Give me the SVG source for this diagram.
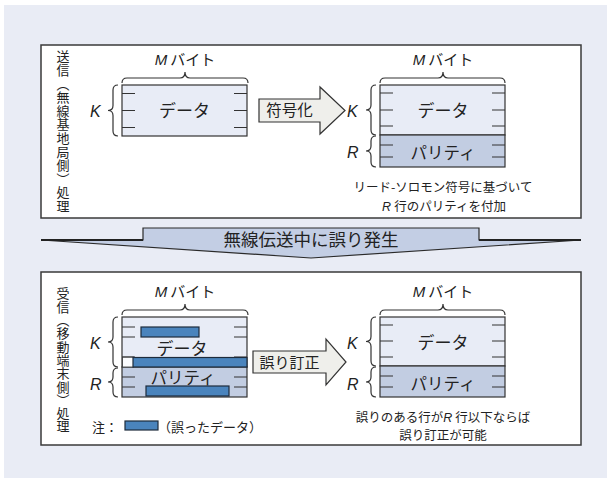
<svg xmlns="http://www.w3.org/2000/svg" width="611" height="483" viewBox="0 0 611 483">
<style>
.t{font-family:"Noto Sans CJK JP","Noto Sans",sans-serif;fill:#222}
.i{font-family:"Liberation Sans",Arial,sans-serif;font-style:italic;fill:#222}
.box{stroke:#333;stroke-width:1.2}
.data{fill:#e8ecf6}
.par{fill:#c2cde2}
.tick{stroke:#333;stroke-width:1.2;fill:none}
.brace{stroke:#333;stroke-width:1.2;fill:none}
.panel{fill:#fff;stroke:#3a3a3a;stroke-width:1.5}
.bar{fill:#4a84bd;stroke:#1d2b3b;stroke-width:1.2}
.arr{fill:#efefeb;stroke:#333;stroke-width:1.2}
</style>
<rect x="4" y="5" width="603" height="473" fill="#e9ecf5"/>
<g id="panel-send">
<rect class="panel" x="41" y="45" width="540" height="173"/>
<text class="t" font-size="13" text-anchor="middle" x="63 63 63 63 63 63 63 63 63 63 63 63" y="61.4 75 88.6 102.2 115.8 129.4 143 156.6 170.2 183.8 197.4 211">送信︵無線基地局側︶処理</text>
</g>
<g id="panel-recv">
<rect class="panel" x="41" y="272" width="540" height="173"/>
<text class="t" font-size="13" text-anchor="middle" x="63 63 63 63 63 63 63 63 63 63 63" y="298.4 311.7 325 338.3 351.6 364.9 378.2 391.5 404.8 418.1 431.4">受信︵移動端末側︶処理</text>
</g>

<g id="send-data">
<text x="185" y="65" text-anchor="middle" font-size="15"><tspan class="i">M</tspan><tspan class="t" dx="3">バイト</tspan></text>
<path class="brace" d="M122,83 Q122,78 127,78 L180,78 Q185,78 185,72 Q185,78 190,78 L243,78 Q248,78 248,83"/>
<text class="i" x="90" y="117" font-size="16">K</text>
<path class="brace" d="M118,85 Q113,85 113,90 L113,105.5 Q113,110.5 108,110.5 Q113,110.5 113,115.5 L113,131 Q113,136 118,136"/>
<rect class="box data" x="122" y="85" width="125" height="51"/>
<path class="tick" d="M122,93.5h13M122,110.5h13M122,127.5h13M247,93.5h-13M247,110.5h-13M247,127.5h-13"/>
<text class="t" x="184.5" y="117" text-anchor="middle" font-size="17">データ</text>
</g>

<g id="send-coded">
<text x="443" y="65" text-anchor="middle" font-size="15"><tspan class="i">M</tspan><tspan class="t" dx="3">バイト</tspan></text>
<path class="brace" d="M380,83 Q380,78 385,78 L438,78 Q443,78 443,72 Q443,78 448,78 L500,78 Q505,78 505,83"/>
<text class="i" x="347" y="117" font-size="16">K</text>
<text class="i" x="347" y="158" font-size="16">R</text>
<path class="brace" d="M376,85 Q371,85 371,90 L371,105 Q371,110 366,110 Q371,110 371,115 L371,130 Q371,135 376,135"/>
<path class="brace" d="M376,136 Q371,136 371,141 L371,146 Q371,151 366,151 Q371,151 371,156 L371,162 Q371,167 376,167"/>
<rect class="box data" x="380" y="85" width="125" height="50"/>
<rect class="box par" x="380" y="135" width="125" height="32"/>
<path class="tick" d="M380,93h13M380,110h13M380,126h13M380,145h13M380,157h13M505,93h-13M505,110h-13M505,126h-13M505,145h-13M505,157h-13"/>
<text class="t" x="443" y="117" text-anchor="middle" font-size="17">データ</text>
<text class="t" x="443" y="159" text-anchor="middle" font-size="16.5">パリティ</text>
<text class="t" x="443" y="192" text-anchor="middle" font-size="12.5">リード-ソロモン符号に基づいて</text>
<text x="444" y="210.5" text-anchor="middle" font-size="12.5"><tspan class="i">R</tspan><tspan class="t" dx="3">行のパリティを付加</tspan></text>
</g>

<g id="recv-data">
<text x="185" y="297" text-anchor="middle" font-size="15"><tspan class="i">M</tspan><tspan class="t" dx="3">バイト</tspan></text>
<path class="brace" d="M122,315 Q122,310 127,310 L180,310 Q185,310 185,304 Q185,310 190,310 L243,310 Q248,310 248,315"/>
<text class="i" x="90" y="349" font-size="16">K</text>
<text class="i" x="90" y="390" font-size="16">R</text>
<path class="brace" d="M118,317 Q113,317 113,322 L113,337 Q113,342 108,342 Q113,342 113,347 L113,362 Q113,367 118,367"/>
<path class="brace" d="M118,368 Q113,368 113,373 L113,377 Q113,382 108,382 Q113,382 113,387 L113,392 Q113,397 118,397"/>
<rect class="box data" x="122" y="317" width="125" height="50"/>
<rect class="box par" x="122" y="367" width="125" height="30"/>
<rect x="122.6" y="357" width="11" height="10" fill="#fbfcfe" stroke="#333" stroke-width="0.8"/>
<path class="tick" d="M122,327h13M122,337h13M122,357h13M122,377h13M122,387h13M247,327h-13M247,337h-13M247,357h-13M247,377h-13M247,387h-13"/>
<rect class="bar" x="141" y="327" width="58" height="10"/>
<rect class="bar" x="133" y="357.5" width="114" height="9.5"/>
<rect class="bar" x="146" y="386" width="83" height="10"/>
<text class="t" x="182" y="355" text-anchor="middle" font-size="17">データ</text>
<text class="t" x="183" y="384" text-anchor="middle" font-size="16.5">パリティ</text>
<text class="t" x="92" y="432" font-size="13">注：</text>
<rect class="bar" x="125" y="421" width="33" height="9"/>
<text class="t" x="158" y="432" font-size="13">（誤ったデータ）</text>
</g>

<g id="recv-corrected">
<text x="443" y="297" text-anchor="middle" font-size="15"><tspan class="i">M</tspan><tspan class="t" dx="3">バイト</tspan></text>
<path class="brace" d="M380,315 Q380,310 385,310 L438,310 Q443,310 443,304 Q443,310 448,310 L500,310 Q505,310 505,315"/>
<text class="i" x="347" y="349" font-size="16">K</text>
<text class="i" x="347" y="390" font-size="16">R</text>
<path class="brace" d="M376,317 Q371,317 371,322 L371,336.5 Q371,341.5 366,341.5 Q371,341.5 371,346.5 L371,361 Q371,366 376,366"/>
<path class="brace" d="M376,367 Q371,367 371,372 L371,377 Q371,382 366,382 Q371,382 371,387 L371,392 Q371,397 376,397"/>
<rect class="box data" x="380" y="317" width="125" height="49"/>
<rect class="box par" x="380" y="366" width="125" height="31"/>
<path class="tick" d="M380,325h13M380,341h13M380,357h13M380,376h13M380,387h13M505,325h-13M505,341h-13M505,357h-13M505,376h-13M505,387h-13"/>
<text class="t" x="443" y="349" text-anchor="middle" font-size="17">データ</text>
<text class="t" x="443" y="390" text-anchor="middle" font-size="16.5">パリティ</text>
<text x="443" y="421.5" text-anchor="middle" font-size="12.5"><tspan class="t">誤りのある行が</tspan><tspan class="i">R</tspan><tspan class="t" dx="3">行以下ならば</tspan></text>
<text class="t" x="443" y="440" text-anchor="middle" font-size="12.5">誤り訂正が可能</text>
</g>

<g id="connectors">
<g id="arrow-encode">
<polygon class="arr" points="259,99 320,99 320,87 345,110.5 320,134 320,122 259,122"/>
<text class="t" x="289.5" y="116" text-anchor="middle" font-size="15.5">符号化</text>
</g>
<g id="arrow-transmit">
<polygon points="41,240 143,240 143,228 479,228 479,240 581,240 311,258" fill="#c3cee4" stroke="#2a2a2a" stroke-width="1.2"/>
<path d="M41,240H143M479,240H581" stroke="#222" stroke-width="2" fill="none"/>
<text class="t" x="311" y="246" text-anchor="middle" font-size="17.5">無線伝送中に誤り発生</text>
</g>
<g id="arrow-correct">
<polygon class="arr" points="253,351 326,351 326,339 346,362 326,385 326,373 253,373"/>
<text class="t" x="289.5" y="368" text-anchor="middle" font-size="15">誤り訂正</text>
</g>
</g>
</svg>
